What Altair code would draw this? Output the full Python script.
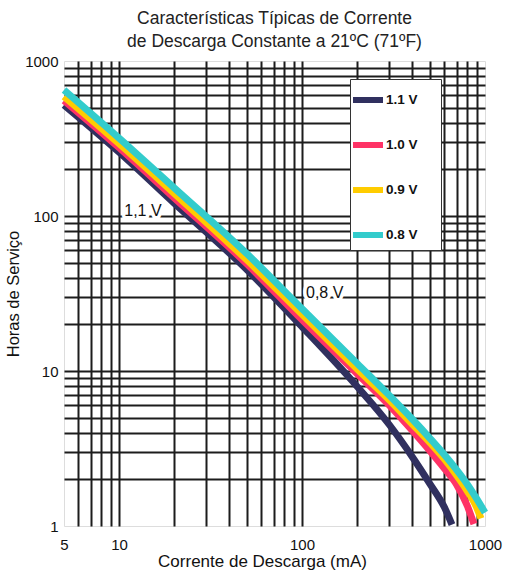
import altair as alt
import pandas as pd

# ---- data ----
series = ["1.1 V", "1.0 V", "0.9 V", "0.8 V"]
colors = ["#30305f", "#ff3366", "#ffcc00", "#33cccc"]

x_11 = [5, 10, 20, 50, 100, 200, 300, 400, 500, 600, 660]
y_11 = [520, 258, 121, 45, 19.3, 7.95, 4.5, 2.8, 1.87, 1.32, 1.02]
x_10 = [5, 10, 20, 50, 100, 200, 300, 400, 500, 600, 700, 800, 870]
y_10 = [556, 276, 131, 49, 21.4, 9.6, 6.0, 4.13, 3.05, 2.35, 1.85, 1.35, 1.03]
x_09 = [5, 10, 20, 50, 100, 200, 300, 400, 500, 600, 700, 800, 900, 950]
y_09 = [590, 293, 140, 52, 23.2, 10.3, 6.5, 4.55, 3.45, 2.7, 2.12, 1.68, 1.32, 1.12]
x_08 = [5, 10, 20, 50, 100, 200, 300, 400, 500, 600, 700, 800, 900, 1000]
y_08 = [650, 318, 152, 57, 25.2, 11.2, 6.96, 4.9, 3.68, 2.88, 2.30, 1.86, 1.50, 1.22]

x_grid = [5, 6, 7, 8, 9, 10, 20, 30, 40, 50, 60, 70, 80, 90,
          100, 200, 300, 400, 500, 600, 700, 800, 900, 1000]
y_grid = [1, 2, 3, 4, 5, 6, 7, 8, 9, 10, 20, 30, 40, 50, 60, 70, 80, 90,
          100, 200, 300, 400, 500, 600, 700, 800, 900, 1000]
x_labels = [5, 10, 100, 1000]
y_labels = [1, 10, 100, 1000]

note_text = ["1,1 V", "0,8 V"]
note_x = [13.5, 133]
note_y = [108, 31.9]

title_lines = ["Características Típicas de Corrente",
               "de Descarga Constante a 21ºC (71ºF)"]

# ---- tables ----
rows = []
for name, xs, ys in zip(series, [x_11, x_10, x_09, x_08], [y_11, y_10, y_09, y_08]):
    for i, (a, b) in enumerate(zip(xs, ys)):
        rows.append({"s": name, "x": a, "y": b, "i": i})
df = pd.DataFrame(rows)
notes = pd.DataFrame({"t": note_text, "x": note_x, "y": note_y})

FONT = "Liberation Sans"

def lab_expr(vals):
    arr = "[" + ",".join(str(v) for v in vals) + "]"
    return f"indexof({arr}, datum.value) >= 0 ? '' + datum.value : ''"

X = alt.X("x:Q",
          scale=alt.Scale(type="log", domain=[5, 1000], nice=False),
          axis=alt.Axis(values=x_grid, labelExpr=lab_expr(x_labels),
                        title="Corrente de Descarga (mA)",
                        ticks=False, tickSize=0, domain=False,
                        grid=True, gridColor="#1c1c1c", gridWidth=2,
                        gridOpacity=alt.condition("datum.value == 5 || datum.value == 1000",
                                                  alt.value(0), alt.value(1)),
                        labelFlush=False, labelOverlap=False,
                        labelPadding=11, labelFont=FONT, labelFontSize=15,
                        labelColor="#111",
                        titleFont=FONT, titleFontSize=17, titleFontWeight="normal",
                        titleColor="#111", titlePadding=1, titleX=198, titleAlign="center"))
Y = alt.Y("y:Q",
          scale=alt.Scale(type="log", domain=[1, 1000], nice=False),
          axis=alt.Axis(values=y_grid, labelExpr=lab_expr(y_labels),
                        title="Horas de Serviço",
                        ticks=False, tickSize=0, domain=False,
                        grid=True, gridColor="#1c1c1c", gridWidth=2,
                        gridOpacity=alt.condition("datum.value == 1 || datum.value == 1000",
                                                  alt.value(0), alt.value(1)),
                        labelFlush=False, labelOverlap=False,
                        labelPadding=6, labelFont=FONT, labelFontSize=15,
                        labelColor="#111", labelBaseline="middle",
                        titleFont=FONT, titleFontSize=16.5, titleFontWeight="normal",
                        titleColor="#111", titlePadding=3))

color = alt.Color("s:N",
                  scale=alt.Scale(domain=series, range=colors),
                  sort=series,
                  legend=alt.Legend(orient="none", legendX=286, legendY=18,
                                    title="ii", titleOrient="right",
                                    titleColor="rgba(0,0,0,0)", titleFontSize=10,
                                    titlePadding=14,
                                    fillColor="white",
                                    strokeColor="#333", padding=3,
                                    symbolType="stroke", symbolSize=900,
                                    symbolStrokeWidth=6, symbolOffset=-3,
                                    labelFont=FONT,
                                    labelFontSize=13.5, labelFontWeight="bold",
                                    labelColor="#111", labelOffset=0,
                                    rowPadding=15))

lines = []
for name in series:
    lines.append(
        alt.Chart(df).transform_filter(alt.datum.s == name)
        .mark_line(strokeWidth=7, interpolate="monotone", clip=False, strokeCap="butt")
        .encode(x=X, y=Y, color=color, order="i:Q")
    )

halo = alt.Chart(notes).mark_text(font=FONT, fontSize=16, color="white",
                                  stroke="white", strokeWidth=7, strokeJoin="round") \
    .encode(x=X, y=Y, text="t:N")
txt = alt.Chart(notes).mark_text(font=FONT, fontSize=16, color="#111") \
    .encode(x=X, y=Y, text="t:N")

chart = alt.layer(halo, *lines, txt).properties(
    width=421, height=465,
    padding={"left": 64, "top": 61, "right": 20, "bottom": 48},
    autosize=alt.AutoSizeParams(type="none"),
    title=alt.TitleParams(text=title_lines, font=FONT, fontSize=17.5,
                          fontWeight="normal", color="#222", anchor="middle",
                          lineHeight=23, offset=4),
).configure_view(stroke="#9a9a9a", strokeWidth=2.5).configure(background="white")

chart.save("out.html", embed_options={"renderer": "svg", "actions": False})
